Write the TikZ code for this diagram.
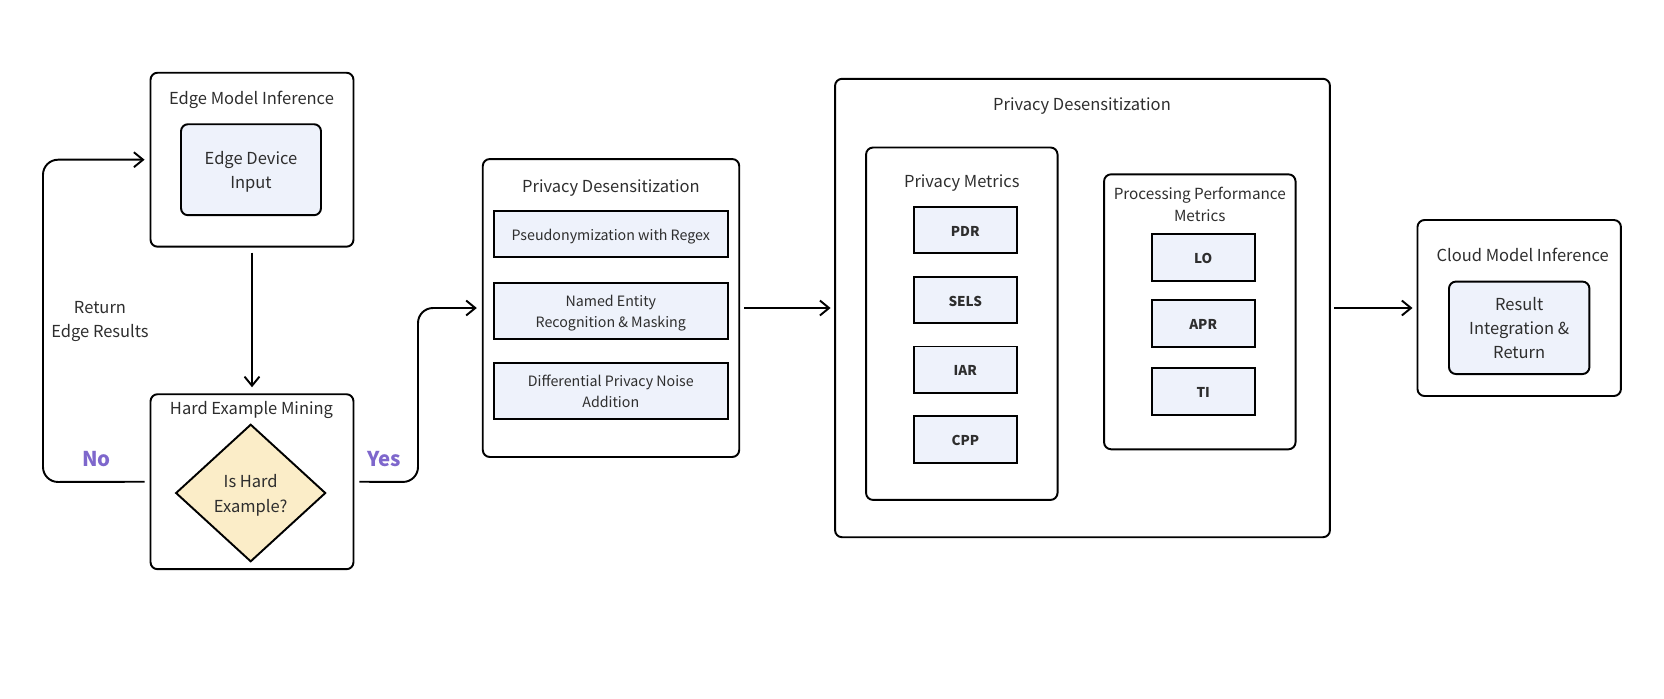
\documentclass[tikz,border=0pt]{standalone}
\usepackage{fontspec}
\setmainfont{Noto Sans CJK SC}
\usetikzlibrary{shapes.geometric,arrows.meta}
\definecolor{boxfill}{HTML}{EEF2FB}
\definecolor{diafill}{HTML}{FBEDC8}
\definecolor{yesno}{HTML}{7E67CC}
\definecolor{txt}{HTML}{2E2E2E}
\newcommand{\fsmain}{\fontsize{9.4}{13.7}\selectfont}
\newcommand{\fssmall}{\fontsize{8.1}{11.6}\selectfont}
\newcommand{\tstrut}{\rule{0pt}{1.1em}}
\tikzset{
  mid/.style={execute at begin node={\rule{0pt}{1.15em}}, execute at end node={\rule[-0.25em]{0pt}{0pt}}},
  outer/.style={draw, line width=1.1pt, rounded corners=4pt},
  inner/.style={draw, line width=1.1pt, rounded corners=4pt, fill=boxfill, align=center, mid},
  sub/.style={draw, line width=1.1pt, fill=boxfill, align=center, font=\fssmall, minimum width=4.67cm, mid},
  metric/.style={draw, line width=1.1pt, fill=boxfill, font=\fontsize{7.7}{10}\selectfont\bfseries, minimum height=0.93cm, mid},
  title/.style={align=center, mid},
  flow/.style={-{Straight Barb[length=5.2pt,width=8.5pt,line width=1.1pt]}, line width=1.1pt},
  yn/.style={text=yesno, font=\fontsize{11.6}{14}\selectfont\bfseries, mid},
}

\begin{document}
\begin{tikzpicture}[x=0.02cm, y=-0.02cm, font=\fsmain, text=txt]
    \useasboundingbox (0,0) rectangle (1664,698);

    \node[outer, minimum width=4.06cm, minimum height=3.48cm] (emi) at (252,159.7) {}; % 边缘模型推理
    \node[title] (emiT) at (251.5,96.7) {Edge Model Inference};
    \node[inner, minimum width=2.8cm, minimum height=1.82cm] (edi) at (251,169.7) {\tstrut Edge Device\\Input};

    \node[outer, minimum width=4.06cm, minimum height=3.5cm] (hem) at (252,481.7) {}; % 难例挖掘
    \node[title] (hemT) at (251.5,406.7) {Hard Example Mining};
    \node[diamond, draw, line width=1.1pt, fill=diafill, minimum width=3cm, minimum height=2.75cm, inner sep=0pt, align=center, mid] (dia) at (250.7,493) {\tstrut Is Hard\\Example?};

    \node[outer, minimum width=5.13cm, minimum height=5.96cm] (pd1) at (611,308) {}; % 隐私脱敏
    \node[title] (pd1T) at (611,185) {Privacy Desensitization};
    \node[sub, minimum height=0.91cm] (pse) at (610.8,233.8) {Pseudonymization with Regex};
    \node[sub, minimum height=1.13cm] (ner) at (610.8,311) {\tstrut Named Entity\\Recognition \& Masking};
    \node[sub, minimum height=1.13cm] (dpn) at (610.8,391) {\tstrut Differential Privacy Noise\\Addition};

    \node[outer, minimum width=9.9cm, minimum height=9.17cm] (pd2) at (1082.5,308) {}; % 指标评估
    \node[title] (pd2T) at (1082,103.3) {Privacy Desensitization};

    \node[outer, minimum width=3.83cm, minimum height=7.05cm] (pm) at (961.8,323.7) {}; % 隐私指标
    \node[title] (pmT) at (961.8,180) {Privacy Metrics};
    \node[metric, minimum width=2.05cm] (pdr) at (965.3,230) {PDR};
    \node[metric, minimum width=2.05cm] (sels) at (965.3,300) {SELS};
    \node[metric, minimum width=2.05cm] (iar) at (965.3,369.7) {IAR};
    \node[metric, minimum width=2.05cm] (cpp) at (965.3,439.3) {CPP};

    \node[outer, minimum width=3.83cm, minimum height=5.5cm] (ppm) at (1199.8,311.8) {}; % 处理性能指标
    \node[title, font=\fontsize{8.7}{12.6}\selectfont] (ppmT) at (1199.8,206.3) {Processing Performance\\Metrics};
    \node[metric, minimum width=2.06cm] (lo) at (1203.2,257.5) {LO};
    \node[metric, minimum width=2.06cm] (apr) at (1203.2,323.3) {APR};
    \node[metric, minimum width=2.06cm] (ti) at (1203.2,391.5) {TI};

    \node[outer, minimum width=4.07cm, minimum height=3.52cm] (cmi) at (1519.2,308) {}; % 云端模型推理
    \node[title] (cmiT) at (1522.7,254) {Cloud Model Inference};
    \node[inner, minimum width=2.81cm, minimum height=1.85cm] (rir) at (1519.2,327.8) {\tstrut Result\\Integration \&\\Return};

    % 连线
    \draw[flow, shorten <=0.1cm, shorten >=0.12cm] (emi.south) -- (hem.north);
    \coordinate (nb) at (43,482);
    \draw[flow, rounded corners=0.3cm, shorten <=0.1cm, shorten >=0.1cm] (hem.west) -- (nb) |- (emi.west);
    \coordinate (yb) at (418,482);
    \draw[flow, rounded corners=0.3cm, shorten <=0.1cm, shorten >=0.1cm] (hem.east) -- (yb) |- (pd1.west);
    \draw[flow, shorten <=0.08cm, shorten >=0.07cm] (pd1.east) -- (pd2.west);
    \draw[flow, shorten <=0.07cm, shorten >=0.08cm] (pd2.east) -- (cmi.west);

    \node[title] (ret) at (100,321.2) {Return\\Edge Results}; % 返回边缘结果
    \node[yn] (no) at (96.7,457.3) {No};
    \node[yn] (yes) at (384,457.3) {Yes};
\end{tikzpicture}
\end{document}
